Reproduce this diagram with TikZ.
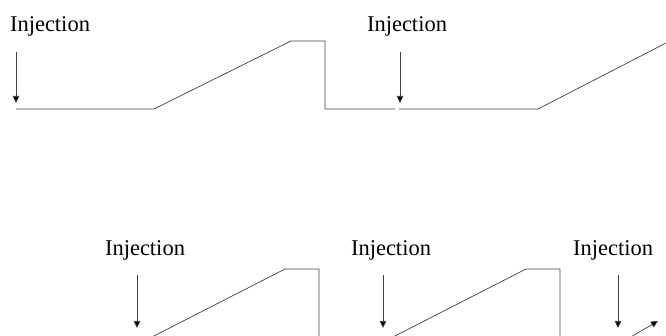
\documentclass[tikz,border=0pt]{standalone}
\usepackage{fontspec}
\setmainfont{Liberation Serif}
\usetikzlibrary{arrows.meta}
\begin{document}
\begin{tikzpicture}[x=1pt,y=-1pt,
  wave/.style={draw=black!75,line width=0.7pt,line join=miter},
  injarrow/.style={draw=black!75,line width=0.7pt,-{Triangle[length=7pt,width=6.5pt,fill=black]}},
  label/.style={font=\fontsize{22.5}{24}\selectfont,anchor=base,inner sep=0pt}]
\useasboundingbox (0,0) rectangle (666,336);
\clip (0,0) rectangle (666,336);
% labels
\node[label] (t1) at (50,32) {Injection};
\node[label] (t2) at (407,32) {Injection};
\node[label] (b1) at (145,256) {Injection};
\node[label] (b2) at (391,256) {Injection};
\node[label] (b3) at (613,256) {Injection};
% arrow coordinates
\coordinate (t1s) at (16,52);  \coordinate (t1e) at (16,103);
\coordinate (t2s) at (400,52); \coordinate (t2e) at (400,103);
\coordinate (b1s) at (137,275); \coordinate (b1e) at (137,328);
\coordinate (b2s) at (383,275); \coordinate (b2e) at (383,328);
\coordinate (b3s) at (618,275); \coordinate (b3e) at (618,328);
\draw[injarrow] (t1s) -- (t1e);
\draw[injarrow] (t2s) -- (t2e);
\draw[injarrow] (b1s) -- (b1e);
\draw[injarrow] (b2s) -- (b2e);
\draw[injarrow] (b3s) -- (b3e);
% top waveform
\coordinate (ta) at (16,109);
\coordinate (tb) at (154,109);
\coordinate (tc) at (291,41);
\coordinate (td) at (325,41);
\coordinate (te) at (325,109);
\coordinate (tf) at (395,109);
\coordinate (tg) at (399,109);
\coordinate (th) at (538,109);
\coordinate (ti) at (668,42);
\draw[wave] (ta) -- (tb) -- (tc) -- (td) -- (te) -- (tf);
\draw[wave] (tg) -- (th) -- (ti);
% bottom waveform
\coordinate (ba) at (150,338);
\coordinate (bb) at (285,269);
\coordinate (bc) at (319,269);
\coordinate (bd) at (319,340);
\coordinate (be) at (391,338);
\coordinate (bf) at (526,269);
\coordinate (bg) at (560,269);
\coordinate (bh) at (560,340);
\coordinate (bi) at (629,338);
\coordinate (bj) at (658,321);
\draw[wave] (ba) -- (bb) -- (bc) -- (bd);
\draw[wave] (be) -- (bf) -- (bg) -- (bh);
\draw[injarrow] (bi) -- (bj);
\end{tikzpicture}
\end{document}
